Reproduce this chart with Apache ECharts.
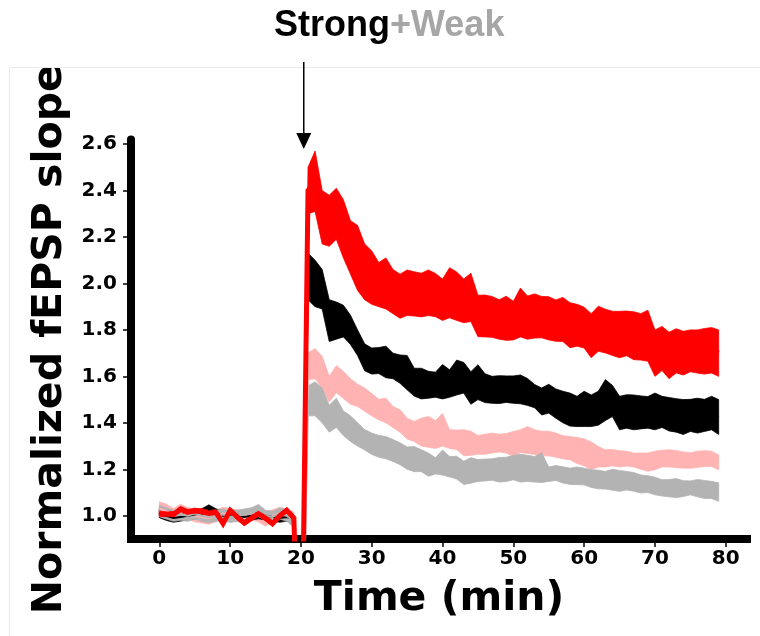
<!DOCTYPE html>
<html>
<head>
<meta charset="utf-8">
<script src="https://cdn.jsdelivr.net/npm/echarts@6/dist/echarts.min.js"></script>
<style>
  html, body { margin: 0; padding: 0; background: #ffffff; }
  #chart { width: 760px; height: 636px; }
</style>
</head>
<body>
<div id="chart"></div>
<script>
// Time points (min)
const TIME = [0,1,2,3,4,5,6,7,8,9,10,11,12,13,14,15,16,17,18,19,
  20,21,22,23,24,25,26,27,28,29,30,31,32,33,34,35,36,37,38,39,
  40,41,42,43,44,45,46,47,48,49,50,51,52,53,54,55,56,57,58,59,
  60,61,62,63,64,65,66,67,68,69,70,71,72,73,74,75,76,77,78,79];

// Strong + drug (red): mean and SEM
const RED_MEAN = [1.010,1.008,1.005,1.028,1.015,1.020,1.018,1.012,1.014,0.966,
  1.023,0.995,0.969,0.990,1.009,0.990,0.966,1.000,1.023,0.990,
  0.000,2.400,2.440,2.285,2.270,2.300,2.235,2.155,2.110,2.050,
  2.025,1.995,2.000,1.965,1.945,1.960,1.955,1.950,1.960,1.950,
  1.930,1.960,1.945,1.925,1.940,1.860,1.860,1.856,1.845,1.850,
  1.840,1.875,1.853,1.860,1.855,1.850,1.840,1.845,1.820,1.820,
  1.810,1.775,1.805,1.795,1.785,1.780,1.785,1.775,1.770,1.775,
  1.700,1.720,1.690,1.710,1.700,1.710,1.707,1.708,1.712,1.700];
const RED_SEM = [0.012,0.012,0.012,0.012,0.012,0.012,0.012,0.012,0.012,0.012,
  0.012,0.012,0.012,0.012,0.012,0.012,0.012,0.012,0.012,0.012,
  0.000,0.100,0.130,0.115,0.110,0.110,0.125,0.115,0.140,0.120,
  0.115,0.095,0.110,0.095,0.095,0.098,0.095,0.094,0.098,0.093,
  0.089,0.108,0.104,0.094,0.104,0.089,0.090,0.088,0.085,0.095,
  0.083,0.105,0.093,0.095,0.089,0.093,0.089,0.095,0.097,0.090,
  0.088,0.095,0.097,0.094,0.095,0.100,0.096,0.103,0.100,0.110,
  0.100,0.095,0.100,0.095,0.094,0.090,0.093,0.098,0.098,0.100];

// Strong (black): mean and SEM
const BLACK_MEAN = [1.012,1.000,0.990,0.995,1.000,1.005,1.010,1.025,1.010,1.000,
  1.005,1.000,0.995,1.000,1.005,1.000,0.995,0.990,0.995,0.985,
  0.000,2.030,2.000,1.975,1.840,1.840,1.838,1.800,1.745,1.682,
  1.666,1.668,1.662,1.645,1.631,1.616,1.575,1.569,1.564,1.564,
  1.577,1.569,1.595,1.594,1.550,1.575,1.549,1.542,1.543,1.545,
  1.543,1.544,1.533,1.515,1.492,1.504,1.483,1.468,1.457,1.449,
  1.460,1.452,1.463,1.498,1.494,1.442,1.449,1.445,1.445,1.445,
  1.449,1.447,1.437,1.432,1.425,1.432,1.431,1.432,1.442,1.425];
const BLACK_SEM = [0.020,0.020,0.018,0.018,0.018,0.018,0.020,0.022,0.020,0.018,
  0.018,0.018,0.018,0.018,0.018,0.018,0.018,0.018,0.018,0.018,
  0.000,0.100,0.100,0.085,0.090,0.080,0.068,0.063,0.055,0.058,
  0.056,0.056,0.068,0.055,0.061,0.074,0.060,0.066,0.058,0.054,
  0.074,0.059,0.075,0.066,0.070,0.075,0.062,0.058,0.060,0.057,
  0.059,0.062,0.058,0.050,0.058,0.062,0.063,0.068,0.071,0.065,
  0.076,0.068,0.073,0.088,0.067,0.072,0.072,0.075,0.071,0.068,
  0.079,0.067,0.072,0.072,0.075,0.069,0.075,0.069,0.072,0.075];

// Weak + drug (pink): mean and SEM
const PINK_MEAN = [1.030,1.020,1.005,1.020,1.010,1.000,0.995,0.990,1.000,1.010,
  1.005,1.000,0.990,1.010,1.000,0.985,1.000,1.010,1.005,0.990,
  0.000,1.643,1.655,1.618,1.545,1.588,1.563,1.535,1.518,1.500,
  1.478,1.457,1.453,1.425,1.408,1.375,1.363,1.360,1.361,1.350,
  1.370,1.330,1.327,1.314,1.312,1.305,1.308,1.313,1.313,1.312,
  1.309,1.321,1.326,1.317,1.311,1.311,1.304,1.295,1.291,1.281,
  1.273,1.258,1.254,1.247,1.250,1.245,1.246,1.240,1.235,1.231,
  1.238,1.246,1.247,1.244,1.240,1.238,1.243,1.246,1.245,1.230];
const PINK_SEM = [0.030,0.030,0.026,0.030,0.026,0.026,0.026,0.026,0.026,0.026,
  0.026,0.026,0.026,0.026,0.026,0.030,0.026,0.026,0.026,0.026,
  0.000,0.058,0.065,0.068,0.055,0.058,0.058,0.055,0.048,0.050,
  0.048,0.044,0.053,0.045,0.048,0.045,0.043,0.060,0.066,0.060,
  0.070,0.040,0.042,0.056,0.052,0.040,0.043,0.043,0.038,0.042,
  0.054,0.049,0.058,0.053,0.053,0.053,0.052,0.050,0.050,0.056,
  0.058,0.060,0.044,0.037,0.035,0.035,0.032,0.030,0.035,0.039,
  0.040,0.036,0.037,0.037,0.035,0.033,0.035,0.034,0.033,0.032];

// Weak (gray): mean and SEM
const GRAY_MEAN = [1.020,1.010,1.000,1.005,1.000,1.010,1.000,0.995,1.000,1.005,
  0.995,1.000,1.005,1.010,1.025,1.000,0.995,1.010,1.000,0.975,
  0.000,1.495,1.503,1.475,1.418,1.443,1.398,1.375,1.350,1.327,
  1.310,1.299,1.293,1.281,1.267,1.248,1.244,1.237,1.220,1.215,
  1.229,1.211,1.207,1.185,1.195,1.195,1.197,1.199,1.198,1.200,
  1.207,1.205,1.204,1.200,1.207,1.179,1.184,1.176,1.170,1.172,
  1.169,1.160,1.156,1.153,1.155,1.150,1.151,1.146,1.137,1.136,
  1.128,1.120,1.119,1.119,1.117,1.120,1.119,1.113,1.111,1.102];
const GRAY_SEM = [0.024,0.024,0.024,0.024,0.024,0.024,0.024,0.024,0.024,0.024,
  0.024,0.024,0.024,0.024,0.024,0.024,0.024,0.024,0.024,0.024,
  0.000,0.065,0.073,0.075,0.058,0.063,0.053,0.055,0.050,0.044,
  0.046,0.047,0.048,0.047,0.047,0.048,0.054,0.047,0.050,0.035,
  0.054,0.044,0.049,0.050,0.055,0.047,0.047,0.046,0.053,0.052,
  0.052,0.060,0.056,0.055,0.064,0.031,0.032,0.035,0.035,0.038,
  0.036,0.038,0.040,0.038,0.045,0.045,0.040,0.040,0.039,0.036,
  0.038,0.035,0.037,0.041,0.034,0.030,0.037,0.039,0.037,0.040];

// Axis ticks
const X_TICKS = [0, 10, 20, 30, 40, 50, 60, 70, 80];
const Y_TICKS = [1.0, 1.2, 1.4, 1.6, 1.8, 2.0, 2.2, 2.4, 2.6];

// Time of the induction arrow
const ARROW_TIME = 20.4;

const FONT = '"DejaVu Sans", sans-serif';

// Mean ± SEM band as one filled polygon, projected through the axes
function bandSeries(id, mean, sem, color) {
  const rows = TIME.map((t, i) => [t, mean[i] - sem[i], mean[i] + sem[i]]);
  return {
    id: id + '-band', type: 'custom', silent: true, animation: false, clip: true,
    data: rows,
    encode: { x: 0, y: [1, 2] },
    renderItem: function (params, api) {
      if (params.dataIndex !== 0) return null;
      const upper = rows.map(r => api.coord([r[0], r[2]]));
      const lower = rows.map(r => api.coord([r[0], r[1]])).reverse();
      const cs = params.coordSys;
      return {
        type: 'polygon',
        shape: { points: upper.concat(lower) },
        style: { fill: color, stroke: color, lineWidth: 0.8 },
        clipPath: { type: 'rect', shape: { x: cs.x, y: cs.y, width: cs.width, height: cs.height } }
      };
    }
  };
}

function meanSeries(id, mean, color, width) {
  return {
    id: id + '-mean', type: 'line', symbol: 'none', silent: true, animation: false,
    clip: true,
    lineStyle: { color: color, width: width, join: 'miter' },
    data: mean.map((m, i) => [TIME[i], m])
  };
}

const series = [
  bandSeries('pink', PINK_MEAN, PINK_SEM, '#ffb3b3'),
  meanSeries('pink', PINK_MEAN, '#ffb3b3', 2),
  bandSeries('black', BLACK_MEAN, BLACK_SEM, '#000000'),
  meanSeries('black', BLACK_MEAN, '#000000', 2),
  bandSeries('gray', GRAY_MEAN, GRAY_SEM, '#b3b3b3'),
  meanSeries('gray', GRAY_MEAN, '#b3b3b3', 2),
  bandSeries('red', RED_MEAN, RED_SEM, '#ff0000'),
  meanSeries('red', RED_MEAN, '#ff0000', 5)
];

const chart = echarts.init(document.getElementById('chart'), null, { renderer: 'canvas' });

chart.setOption({
  backgroundColor: '#ffffff',
  animation: false,
  title: {
    text: '{a|Strong}{b|+Weak}',
    left: 269, top: 3,
    textStyle: {
      rich: {
        a: { fontFamily: '"Liberation Sans", Arial, sans-serif', fontWeight: 'bold', fontSize: 36, color: '#000000' },
        b: { fontFamily: '"Liberation Sans", Arial, sans-serif', fontWeight: 'bold', fontSize: 36, color: '#a6a6a6' }
      }
    }
  },
  grid: { left: 131, right: 13, top: 139.4, bottom: 97, containLabel: false },
  xAxis: {
    type: 'value', min: -4, max: 83,
    name: 'Time (min)', nameLocation: 'middle', nameGap: 40,
    nameTextStyle: { fontFamily: FONT, fontWeight: 'bold', fontSize: 41, color: '#000000' },
    axisLine: { show: true, onZero: false, lineStyle: { color: '#000000', width: 8, cap: 'square' } },
    axisTick: { show: true, length: 8, lineStyle: { color: '#000000', width: 1.5 }, customValues: X_TICKS },
    axisLabel: { fontFamily: FONT, fontWeight: 'bold', fontSize: 20, color: '#000000', margin: 10,
      customValues: X_TICKS, formatter: v => String(v) },
    splitLine: { show: false }
  },
  yAxis: {
    type: 'value', min: 0.9, max: 2.62,
    name: 'Normalized fEPSP slope', nameLocation: 'middle', nameGap: 54, nameRotate: 90,
    nameTextStyle: { fontFamily: FONT, fontWeight: 'bold', fontSize: 41, color: '#000000' },
    axisLine: { show: true, onZero: false, lineStyle: { color: '#000000', width: 8 } },
    axisTick: { show: true, length: 8, lineStyle: { color: '#000000', width: 1.5 }, customValues: Y_TICKS },
    axisLabel: { fontFamily: FONT, fontWeight: 'bold', fontSize: 20, color: '#000000', margin: 14,
      customValues: Y_TICKS, formatter: v => v.toFixed(1) },
    splitLine: { show: false }
  },
  series: series
});

// Induction arrow and page frame
const ax = chart.convertToPixel({ xAxisIndex: 0 }, ARROW_TIME);
chart.setOption({
  graphic: [
    { type: 'rect', z: 5, silent: true, shape: { x: 0, y: 0, width: 760, height: 67.5 },
      style: { fill: '#ffffff' } },
    { type: 'rect', z: 5, silent: true, shape: { x: 9.5, y: 67.5, width: 760, height: 600 },
      style: { fill: null, stroke: '#ebebeb', lineWidth: 1 } },
    { type: 'line', z: 7, silent: true, shape: { x1: ax, y1: 62, x2: ax, y2: 136 },
      style: { stroke: '#000000', lineWidth: 1.5 } },
    { type: 'polygon', z: 7, silent: true,
      shape: { points: [[ax - 7.5, 133], [ax + 7.5, 133], [ax, 149]] },
      style: { fill: '#000000' } }
  ]
});
</script>
</body>
</html>
